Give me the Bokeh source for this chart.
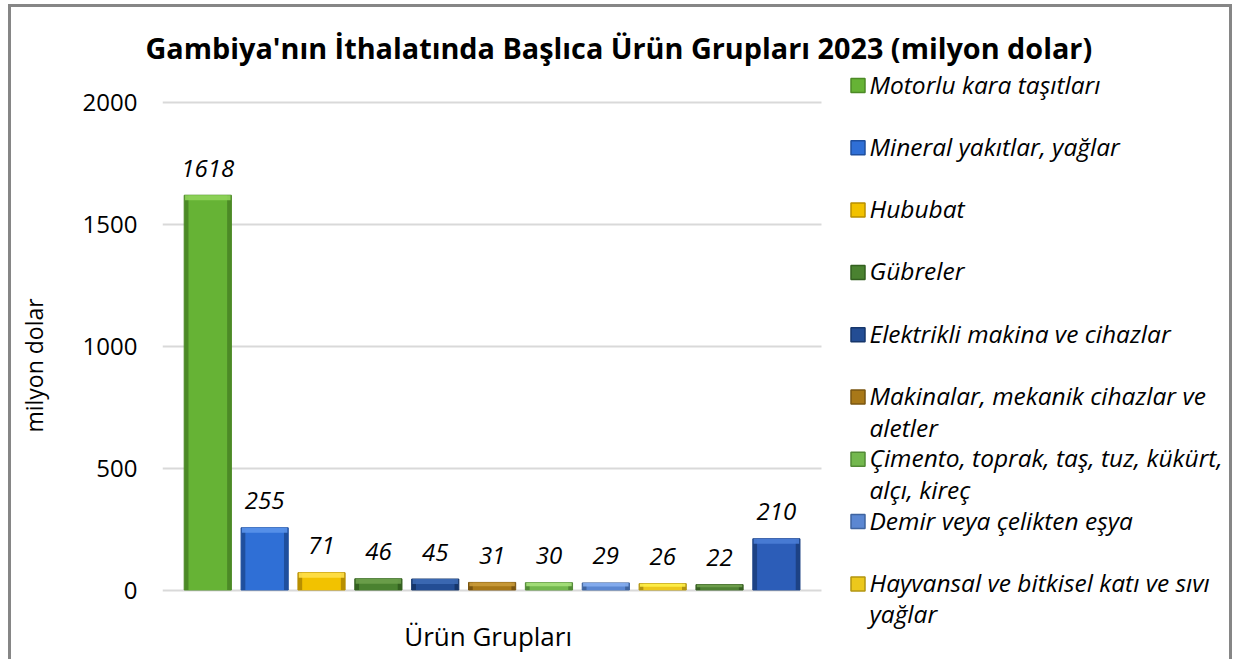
from bokeh.plotting import figure
from bokeh.models import Range1d, FixedTicker, ColumnDataSource
from bokeh.embed import file_html
from bokeh.resources import INLINE
from bokeh.core.properties import value

# ---------------- data ----------------
title_text = "Gambiya'nın İthalatında Başlıca Ürün Grupları 2023 (milyon dolar)"
legend_names = [
    "Motorlu kara taşıtları",
    "Mineral yakıtlar, yağlar",
    "Hububat",
    "Gübreler",
    "Elektrikli makina ve cihazlar",
    "Makinalar, mekanik cihazlar ve\naletler",
    "Çimento, toprak, taş, tuz, kükürt,\nalçı, kireç",
    "Demir veya çelikten eşya",
    "Hayvansal ve bitkisel katı ve sıvı\nyağlar",
]
values = [1618, 255, 71, 46, 45, 31, 30, 29, 26, 22, 210]
bar_colors = ["#66b335", "#2f6fd6", "#f2c200", "#4a8230", "#234d94", "#a87818",
              "#73b84e", "#5b87d2", "#ecc81c", "#4f8234", "#2c5db8"]
edge_colors = ["#4c8a26", "#1f4f9e", "#b88f00", "#33601f", "#16366b", "#7a5510",
               "#528a36", "#3f64a0", "#b39510", "#375f22", "#1d4285"]
light_colors = ["#8fd35a", "#5a92ea", "#ffe04a", "#6da04c", "#3d6ab4", "#c99a3a",
                "#a6e07c", "#86aef0", "#fff04a", "#6fa04e", "#4a7dd6"]
y_ticks = [0, 500, 1000, 1500, 2000]
y_label = "milyon dolar"
x_label = "Ürün Grupları"

# ---------------- layout (page pixels) ----------------
FONT = "Open Sans"
BORDER = 3
MARGIN_L, MARGIN_T = 8, 4
W, H = 1224, 655                     # canvas size (clipped inside the bordered box)
CANVAS_L, CANVAS_T = MARGIN_L + BORDER, MARGIN_T + BORDER
FRAME_L, FRAME_T = 162, 68
FRAME_R = CANVAS_L + W
FRAME_B = CANVAS_T + H
ZERO_PX, PX_PER_UNIT = 589.5, 0.244
CAT0_PX, CAT_PITCH = 207.3, 56.86

x_start = (FRAME_L - CAT0_PX) / CAT_PITCH
x_end = (FRAME_R - CAT0_PX) / CAT_PITCH
y_start = (ZERO_PX - FRAME_B) / PX_PER_UNIT
y_end = (ZERO_PX - FRAME_T) / PX_PER_UNIT
n = len(values)
grid_pad = (162.0 - CAT0_PX) / CAT_PITCH  # gridline overhang

p = figure(width=W, height=H, output_backend="svg", toolbar_location=None,
           x_range=Range1d(x_start, x_end), y_range=Range1d(y_start, y_end),
           x_axis_location=None, min_border_left=FRAME_L - CANVAS_L,
           min_border_right=0, min_border_top=FRAME_T - CANVAS_T, min_border_bottom=0,
           background_fill_color="white", border_fill_color="white")
p.styles = {"box-sizing": "border-box",
            "margin-left": f"{MARGIN_L}px", "margin-top": f"{MARGIN_T}px",
            "border-top": f"{BORDER}px solid #868686",
            "border-left": f"{BORDER}px solid #868686",
            "border-right": f"{BORDER}px solid #868686"}
p.outline_line_color = None
p.extra_x_ranges = {"px": Range1d(FRAME_L, FRAME_R)}
p.extra_y_ranges = {"px": Range1d(FRAME_B, FRAME_T)}

# title
p.title.text = title_text
p.title.text_font = FONT
p.title.text_font_style = "bold"
p.title.text_font_size = "28.8px"
p.title.text_color = "black"
p.title.align = "left"
p.title.offset = 145 - FRAME_L
p.title.standoff = 4

# y axis + grid
p.xgrid.visible = False
yax = p.yaxis[0]
yax.ticker = FixedTicker(ticks=y_ticks)
yax.axis_line_color = None
yax.major_tick_line_color = None
yax.minor_tick_line_color = None
yax.major_tick_out = 0
yax.major_tick_in = 0
yax.major_label_standoff = 25
yax.major_label_text_font = FONT
yax.major_label_text_font_size = "24px"
yax.major_label_text_color = "black"
yax.axis_label = y_label
yax.axis_label_text_font = FONT
yax.axis_label_text_font_size = "23px"
yax.axis_label_text_font_style = "normal"
yax.axis_label_text_color = "black"
yax.axis_label_standoff = 30
p.ygrid.grid_line_color = "#d9d9d9"
p.ygrid.grid_line_width = 2
p.ygrid.cross_bounds = (grid_pad, n - 1 - grid_pad)

# bars (3-D look: dark edges, body, lighter top bevel)
idx = list(range(n))
bevel_px = 5
bevel_bottom = [max(v - bevel_px / PX_PER_UNIT, v * 0.5) for v in values]
src = ColumnDataSource(dict(x=idx, top=values, color=bar_colors, edge=edge_colors,
                            light=light_colors, bevel=bevel_bottom,
                            label=[str(v) for v in values]))
p.vbar(x="x", top="top", bottom=0, width=0.83, source=src, fill_color="edge", line_color="edge")
p.vbar(x="x", top="top", bottom=0, width=0.68, source=src, fill_color="color", line_color=None)
p.vbar(x="x", top="top", bottom="bevel", width=0.80, source=src, fill_color="light",
       line_color=None, fill_alpha=0.9)
p.text(x="x", y="top", text="label", source=src, text_align="center",
       text_baseline="middle", y_offset=-27, text_font=value(FONT),
       text_font_style="italic", text_font_size="24px", text_color="black")

# x axis title under the plot
p.text(x=[(n - 1) / 2], y=[635], y_range_name="px", text=[x_label], text_align="center",
       text_baseline="middle", x_offset=-4, text_font=value(FONT), text_font_size="26px",
       text_color="black")

# legend (manual, uniform pitch)
LEG_MID0, LEG_PITCH, LEG_LINE = 83.5, 62.3, 31.5
sw_x, sw_y, sw_c, sw_e = [], [], [], []
tx, ty, tt = [], [], []
for i, name in enumerate(legend_names):
    mid = LEG_MID0 + LEG_PITCH * i
    sw_x.append(857.5)
    sw_y.append(mid + 1.5)
    sw_c.append(bar_colors[i])
    sw_e.append(edge_colors[i])
    for j, line in enumerate(name.split("\n")):
        tx.append(869)
        ty.append(mid + LEG_LINE * j)
        tt.append(line)
p.scatter(x=sw_x, y=sw_y, x_range_name="px", y_range_name="px", marker="square", size=14,
          fill_color=sw_c, line_color=sw_e, line_width=1.5)
p.text(x=tx, y=ty, text=tt, x_range_name="px", y_range_name="px", text_align="left",
       text_baseline="middle", text_font=value(FONT), text_font_style="italic",
       text_font_size="24.5px", text_color="black")

open("out.html", "w").write(file_html(p, INLINE))
